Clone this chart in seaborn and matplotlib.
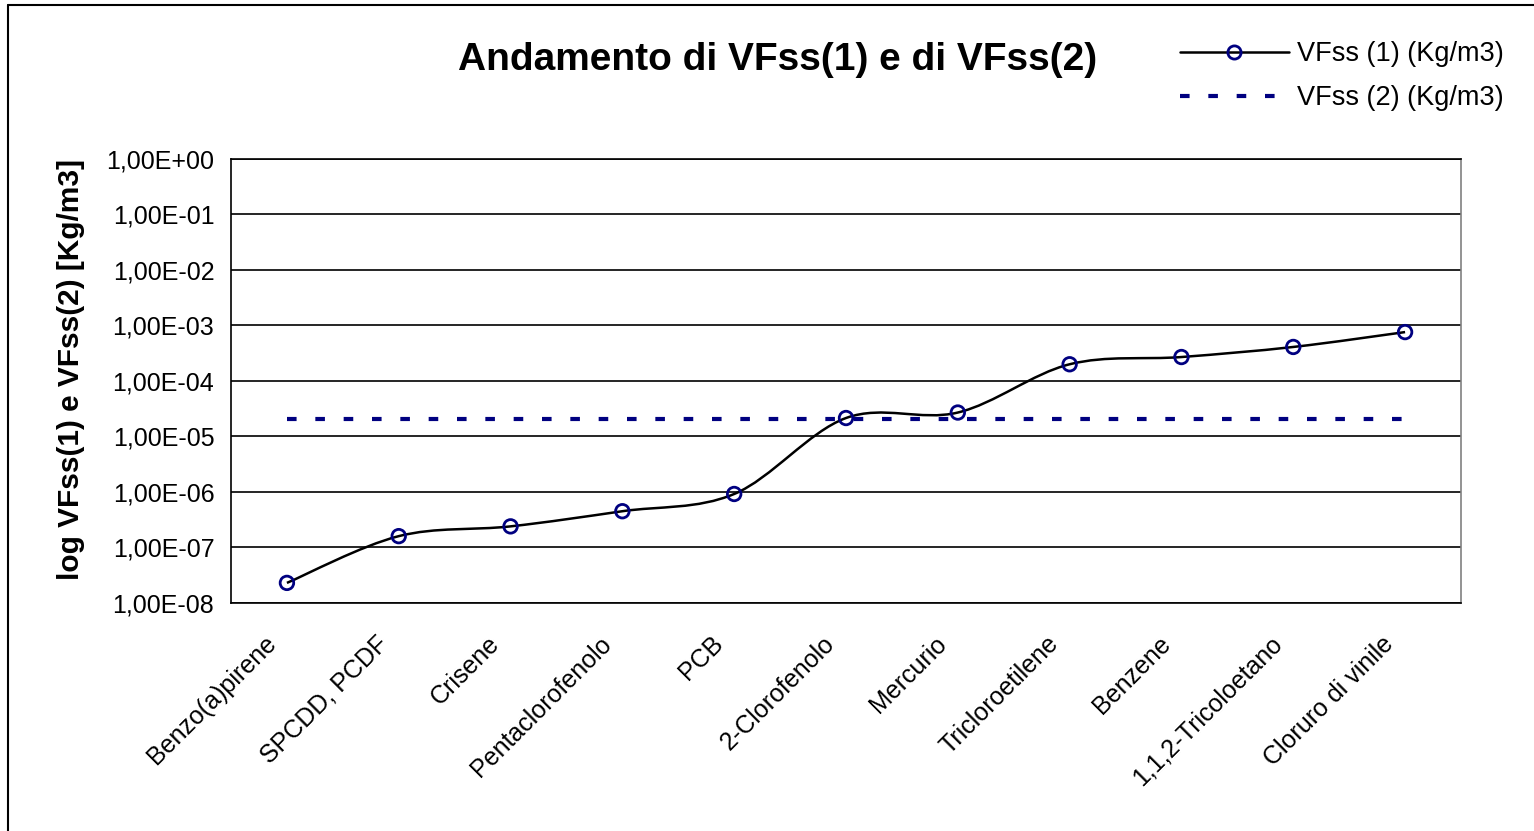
import numpy as np
import pandas as pd
import matplotlib
matplotlib.use("Agg")
import matplotlib.pyplot as plt
import seaborn as sns
from matplotlib.path import Path
from matplotlib.patches import PathPatch
from matplotlib.lines import Line2D
from matplotlib.ticker import FixedLocator, FuncFormatter, NullFormatter
from matplotlib.transforms import ScaledTranslation

categories = ["Benzo(a)pirene", "SPCDD, PCDF", "Crisene", "Pentaclorofenolo", "PCB",
              "2-Clorofenolo", "Mercurio", "Tricloroetilene", "Benzene",
              "1,1,2-Tricoloetano", "Cloruro di vinile"]
vfss1 = [2.3e-8, 1.6e-7, 2.4e-7, 4.5e-7, 9.2e-7, 2.15e-5, 2.7e-5, 2.0e-4, 2.7e-4, 4.1e-4, 7.6e-4]
vfss2 = [2.1e-5] * len(categories)
ytick_vals = [1e0, 1e-1, 1e-2, 1e-3, 1e-4, 1e-5, 1e-6, 1e-7, 1e-8]

df = pd.DataFrame({"cat": categories, "pos": np.arange(len(categories)),
                   "vfss1": vfss1, "vfss2": vfss2})

sns.set_style("white")
plt.rcParams["font.family"] = ["Liberation Sans", "DejaVu Sans"]
plt.rcParams.update({"text.color": "black", "axes.labelcolor": "black",
                     "xtick.color": "black", "ytick.color": "black"})

NAVY = "#000080"
DASH = (0, (2.3, 4.5))

fig = plt.figure(figsize=(15.34, 8.31), dpi=100)
ax = fig.add_axes([0.1506, 0.2744, 0.9524 - 0.1506, 0.8087 - 0.2744])
ax.set_yscale("log")

# smoothed line (Excel-style bezier through the points, in log space)
x = df["pos"].to_numpy(dtype=float)
ly = np.log10(df["vfss1"].to_numpy())
verts = [(x[0], ly[0])]
codes = [Path.MOVETO]
for i in range(len(x) - 1):
    p0 = (x[i - 1], ly[i - 1]) if i > 0 else (x[i], ly[i])
    p1 = (x[i], ly[i])
    p2 = (x[i + 1], ly[i + 1])
    p3 = (x[i + 2], ly[i + 2]) if i + 2 < len(x) else p2
    t = 1 / 6
    c1 = (p1[0] + (p2[0] - p0[0]) * t, p1[1] + (p2[1] - p0[1]) * t)
    c2 = (p2[0] - (p3[0] - p1[0]) * t, p2[1] - (p3[1] - p1[1]) * t)
    verts += [c1, c2, p2]
    codes += [Path.CURVE4] * 3
verts_data = [(vx, 10 ** vy) for vx, vy in verts]
curve = PathPatch(Path(verts_data, codes), facecolor="none", edgecolor="black", lw=1.8, zorder=3)
ax.add_patch(curve)

sns.lineplot(data=df, x="pos", y="vfss2", ax=ax, color=NAVY, lw=3, linestyle=DASH, zorder=2)
sns.scatterplot(data=df, x="pos", y="vfss1", ax=ax, marker="o", s=95,
                facecolor="none", edgecolor=NAVY, linewidth=2, zorder=4)

ax.set_xlim(-0.5, len(categories) - 0.5)
ax.set_ylim(1e-8, 1e0)
ax.yaxis.set_major_locator(FixedLocator(ytick_vals))
ax.yaxis.set_minor_locator(FixedLocator([]))
ax.yaxis.set_major_formatter(FuncFormatter(lambda v, p: f"{v:.2E}".replace(".", ",")))
ax.grid(axis="y", color="black", lw=1.2)
ax.set_axisbelow(True)

# category labels: rotated, right end just left of each category centre
ax.set_xticks(df["pos"])
ax.xaxis.set_major_formatter(NullFormatter())
lab_tr = ax.get_xaxis_transform() + ScaledTranslation(-0.10, -0.42, fig.dpi_scale_trans)
for p, c in zip(df["pos"], df["cat"]):
    ax.text(p, 0, c, transform=lab_tr, rotation=45, ha="right", va="baseline",
            rotation_mode="anchor", fontsize=18)
ax.set_xticks(np.arange(-0.5, len(categories), 1.0), minor=True)
ax.tick_params(axis="x", which="major", length=0)
ax.tick_params(axis="x", which="minor", length=7, width=1.2, color="black", direction="out")
ax.tick_params(axis="y", which="major", length=7, width=1.2, color="black",
               direction="out", labelsize=18, pad=5)
ax.set_xlabel("")
ax.set_ylabel("log VFss(1) e VFss(2) [Kg/m3]", fontsize=21.5, fontweight="bold")
ax.yaxis.set_label_coords(-0.119, 0.525)
for s in ax.spines.values():
    s.set_color("black")
    s.set_linewidth(1.2)
ax.spines["right"].set_color("#808080")

fig.text(0.507, 0.928, "Andamento di VFss(1) e di VFss(2)", ha="center", va="center",
         fontsize=28, fontweight="bold")

handles = [
    Line2D([], [], color="black", lw=1.8, marker="o", markersize=9.5, markerfacecolor="none",
           markeredgecolor=NAVY, markeredgewidth=2),
    Line2D([], [], color=NAVY, lw=3, linestyle=DASH),
]
fig.legend(handles, ["VFss (1) (Kg/m3)", "VFss (2) (Kg/m3)"], loc="upper right",
           bbox_to_anchor=(0.996, 0.98), frameon=False, fontsize=19.5,
           handlelength=4.0, handletextpad=0.3, labelspacing=0.68)

# figure border (left and top edges visible)
fig.add_artist(Line2D([0.0052, 0.0052], [0, 0.994], transform=fig.transFigure, color="black", lw=1.5))
fig.add_artist(Line2D([0.0052, 1.0], [0.994, 0.994], transform=fig.transFigure, color="black", lw=1.5))

fig.savefig("out.png", dpi=100)
